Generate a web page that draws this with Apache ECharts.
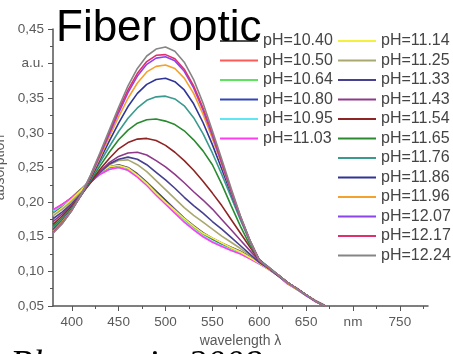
<!DOCTYPE html>
<html>
<head>
<meta charset="utf-8">
<script src="https://cdn.jsdelivr.net/npm/echarts@6/dist/echarts.min.js"></script>
<style>
  html, body { margin: 0; padding: 0; background: #fff; }
  #chart { width: 453px; height: 354px; }
</style>
</head>
<body>
<div id="chart"></div>
<script>
// wavelength in nm
var wavelength = [380, 390, 400, 410, 420, 430, 440, 450, 460, 470, 480, 490, 500, 510, 520,
  530, 540, 550, 560, 570, 580, 590, 600, 610, 620, 630, 640, 650, 660, 670];

var phNames = ["pH=10.40", "pH=10.50", "pH=10.64", "pH=10.80", "pH=10.95", "pH=11.03",
  "pH=11.14", "pH=11.25", "pH=11.33", "pH=11.43", "pH=11.54", "pH=11.65",
  "pH=11.76", "pH=11.86", "pH=11.96", "pH=12.07", "pH=12.17", "pH=12.24"];

var phColors = ["#505050", "#ff5a5a", "#5ee35e", "#3346b8", "#5fe6f0", "#ff3cf0",
  "#f5f03c", "#a8a870", "#45408f", "#8e3a8a", "#8e2424", "#2a8a30",
  "#3a9a8e", "#2f3596", "#f5a22c", "#8a45f0", "#e0306a", "#858585"];

// absorption (a.u.), one array per pH
var ph1040 = [0.186, 0.196, 0.207, 0.219, 0.232, 0.243, 0.251, 0.254, 0.250, 0.241, 0.229, 0.216, 0.203, 0.190, 0.177, 0.166, 0.156, 0.148, 0.141, 0.135, 0.129, 0.121, 0.113, 0.104, 0.095, 0.084, 0.075, 0.066, 0.057, 0.050];
var ph1050 = [0.188, 0.197, 0.206, 0.218, 0.231, 0.242, 0.250, 0.253, 0.249, 0.240, 0.228, 0.214, 0.201, 0.189, 0.176, 0.164, 0.154, 0.147, 0.140, 0.134, 0.128, 0.120, 0.112, 0.103, 0.094, 0.083, 0.076, 0.066, 0.058, 0.051];
var ph1064 = [0.184, 0.195, 0.205, 0.218, 0.230, 0.242, 0.249, 0.252, 0.248, 0.239, 0.227, 0.214, 0.200, 0.188, 0.175, 0.164, 0.154, 0.146, 0.139, 0.133, 0.127, 0.120, 0.112, 0.104, 0.095, 0.083, 0.074, 0.065, 0.057, 0.050];
var ph1080 = [0.183, 0.193, 0.204, 0.217, 0.230, 0.241, 0.249, 0.253, 0.249, 0.240, 0.228, 0.215, 0.202, 0.189, 0.176, 0.165, 0.155, 0.147, 0.140, 0.134, 0.128, 0.121, 0.113, 0.104, 0.094, 0.084, 0.075, 0.066, 0.057, 0.050];
var ph1095 = [0.187, 0.196, 0.205, 0.216, 0.229, 0.240, 0.248, 0.250, 0.246, 0.237, 0.225, 0.211, 0.198, 0.185, 0.172, 0.161, 0.151, 0.143, 0.137, 0.131, 0.126, 0.119, 0.111, 0.103, 0.094, 0.083, 0.074, 0.065, 0.057, 0.050];
var ph1103 = [0.189, 0.197, 0.206, 0.217, 0.229, 0.240, 0.247, 0.250, 0.246, 0.236, 0.224, 0.210, 0.197, 0.184, 0.171, 0.160, 0.150, 0.142, 0.136, 0.130, 0.125, 0.118, 0.111, 0.103, 0.094, 0.082, 0.074, 0.065, 0.056, 0.050];
var ph1114 = [0.182, 0.192, 0.204, 0.217, 0.231, 0.243, 0.251, 0.253, 0.249, 0.239, 0.227, 0.213, 0.200, 0.188, 0.176, 0.165, 0.155, 0.148, 0.141, 0.134, 0.128, 0.120, 0.112, 0.103, 0.095, 0.084, 0.075, 0.066, 0.057, 0.050];
var ph1125 = [0.180, 0.190, 0.201, 0.214, 0.229, 0.243, 0.254, 0.260, 0.261, 0.254, 0.244, 0.231, 0.218, 0.205, 0.192, 0.181, 0.171, 0.161, 0.151, 0.142, 0.133, 0.123, 0.113, 0.104, 0.095, 0.083, 0.075, 0.066, 0.057, 0.050];
var ph1133 = [0.176, 0.186, 0.198, 0.212, 0.228, 0.243, 0.255, 0.262, 0.265, 0.262, 0.254, 0.243, 0.232, 0.220, 0.207, 0.195, 0.184, 0.172, 0.161, 0.149, 0.137, 0.125, 0.113, 0.104, 0.094, 0.083, 0.075, 0.066, 0.057, 0.050];
var ph1143 = [0.172, 0.183, 0.196, 0.211, 0.228, 0.244, 0.257, 0.266, 0.271, 0.272, 0.268, 0.260, 0.251, 0.240, 0.228, 0.215, 0.203, 0.190, 0.175, 0.160, 0.145, 0.130, 0.115, 0.105, 0.095, 0.084, 0.075, 0.066, 0.057, 0.050];
var ph1154 = [0.168, 0.180, 0.194, 0.210, 0.229, 0.247, 0.263, 0.277, 0.286, 0.291, 0.292, 0.289, 0.282, 0.272, 0.260, 0.246, 0.230, 0.213, 0.195, 0.175, 0.155, 0.135, 0.116, 0.105, 0.095, 0.084, 0.075, 0.066, 0.057, 0.050];
var ph1165 = [0.165, 0.177, 0.192, 0.210, 0.231, 0.252, 0.272, 0.290, 0.304, 0.314, 0.319, 0.320, 0.317, 0.312, 0.303, 0.290, 0.274, 0.254, 0.226, 0.195, 0.165, 0.138, 0.117, 0.105, 0.095, 0.084, 0.075, 0.066, 0.057, 0.050];
var ph1176 = [0.162, 0.175, 0.191, 0.210, 0.233, 0.257, 0.280, 0.302, 0.321, 0.336, 0.347, 0.352, 0.353, 0.349, 0.339, 0.322, 0.299, 0.271, 0.240, 0.207, 0.174, 0.143, 0.117, 0.106, 0.095, 0.083, 0.075, 0.066, 0.057, 0.050];
var ph1186 = [0.160, 0.173, 0.190, 0.210, 0.234, 0.261, 0.288, 0.314, 0.338, 0.357, 0.370, 0.377, 0.379, 0.374, 0.362, 0.342, 0.315, 0.283, 0.248, 0.212, 0.177, 0.144, 0.117, 0.105, 0.094, 0.084, 0.075, 0.066, 0.057, 0.050];
var ph1196 = [0.158, 0.172, 0.189, 0.210, 0.236, 0.264, 0.294, 0.323, 0.350, 0.372, 0.388, 0.396, 0.398, 0.393, 0.379, 0.357, 0.327, 0.292, 0.254, 0.215, 0.178, 0.144, 0.116, 0.105, 0.095, 0.083, 0.074, 0.066, 0.057, 0.050];
var ph1207 = [0.156, 0.170, 0.188, 0.210, 0.237, 0.267, 0.298, 0.329, 0.358, 0.382, 0.399, 0.408, 0.410, 0.404, 0.389, 0.365, 0.333, 0.296, 0.256, 0.216, 0.178, 0.144, 0.116, 0.106, 0.095, 0.084, 0.075, 0.065, 0.057, 0.050];
var ph1217 = [0.156, 0.170, 0.188, 0.211, 0.238, 0.269, 0.301, 0.333, 0.362, 0.386, 0.403, 0.412, 0.413, 0.407, 0.392, 0.368, 0.336, 0.299, 0.258, 0.217, 0.179, 0.145, 0.116, 0.105, 0.095, 0.084, 0.075, 0.066, 0.057, 0.050];
var ph1224 = [0.155, 0.169, 0.188, 0.211, 0.239, 0.271, 0.304, 0.337, 0.368, 0.393, 0.411, 0.421, 0.424, 0.418, 0.402, 0.377, 0.343, 0.303, 0.262, 0.220, 0.180, 0.145, 0.116, 0.106, 0.095, 0.084, 0.075, 0.066, 0.057, 0.050];

var phValues = [ph1040, ph1050, ph1064, ph1080, ph1095, ph1103, ph1114, ph1125, ph1133,
  ph1143, ph1154, ph1165, ph1176, ph1186, ph1196, ph1207, ph1217, ph1224];

var xMajorTicks = [400, 450, 500, 550, 600, 650, 700, 750];
var xMinorTicks = [425, 475, 525, 575, 625, 675, 725, 775];

var chart = echarts.init(document.getElementById("chart"));

var series = phNames.map(function (name, i) {
  return {
    name: name,
    type: "line",
    symbol: "none",
    color: phColors[i],
    lineStyle: { width: 1.6, color: phColors[i] },
    data: wavelength.map(function (w, j) { return [w, phValues[i][j]]; }),
    z: 2
  };
});

var legendText = { color: "#444", fontSize: 16, fontFamily: "Liberation Sans, Arial", lineHeight: 16 };

var option = {
  animation: false,
  backgroundColor: "#fff",
  grid: { left: 53, right: 25, top: 29, bottom: 48, containLabel: false, outerBoundsMode: "none" },
  legend: [
    {
      orient: "vertical", left: 220, top: 33, padding: 0,
      icon: "rect", itemWidth: 38, itemHeight: 2, itemGap: 3.5,
      textStyle: legendText,
      data: phNames.slice(0, 6)
    },
    {
      orient: "vertical", left: 338, top: 33, padding: 0,
      icon: "rect", itemWidth: 38, itemHeight: 2, itemGap: 3.5,
      textStyle: legendText,
      data: phNames.slice(6)
    }
  ],
  xAxis: [
    {
      type: "value", min: 380, max: 780,
      name: "wavelength λ", nameLocation: "middle", nameGap: 28,
      nameTextStyle: { color: "#5a5a5a", fontSize: 14, fontFamily: "Liberation Sans, Arial" },
      axisLine: { lineStyle: { color: "#555", width: 1.5 } },
      axisTick: { customValues: xMajorTicks, length: 5, lineStyle: { color: "#555" } },
      axisLabel: {
        customValues: xMajorTicks, margin: 9, color: "#5a5a5a", fontSize: 13.5,
        fontFamily: "Liberation Sans, Arial",
        formatter: function (v) { return v === 700 ? "nm" : String(v); }
      },
      splitLine: { show: false }
    },
    {
      type: "value", min: 380, max: 780, position: "bottom",
      axisLine: { show: false },
      axisTick: { customValues: xMinorTicks, length: 3, lineStyle: { color: "#555" } },
      axisLabel: { show: false },
      splitLine: { show: false }
    }
  ],
  yAxis: {
    type: "value", min: 0.05, max: 0.45, interval: 0.05,
    name: "absorption", nameLocation: "middle", nameRotate: 90, nameGap: 46,
    nameTextStyle: { color: "#5a5a5a", fontSize: 14, fontFamily: "Liberation Sans, Arial" },
    axisLine: { show: true, lineStyle: { color: "#555", width: 1.5 } },
    axisTick: { show: true, length: 5, lineStyle: { color: "#555" } },
    minorTick: { show: true, splitNumber: 2, length: 3, lineStyle: { color: "#555" } },
    axisLabel: {
      margin: 9, color: "#5a5a5a", fontSize: 13.5, fontFamily: "Liberation Sans, Arial",
      formatter: function (v) {
        if (Math.abs(v - 0.4) < 1e-6) return "a.u.";
        return v.toFixed(2).replace(".", ",");
      }
    },
    splitLine: { show: false }
  },
  graphic: [
    {
      type: "text", left: 56, top: 7, z: 100,
      style: { text: "Fiber optic", fill: "#000", font: "44px Liberation Sans, Arial" }
    },
    {
      type: "text", left: 10, top: 348, z: 100,
      style: { text: "Blumentritt 2008", fill: "#000", font: "italic 37px Liberation Serif, Times New Roman" }
    }
  ],
  series: series
};

chart.setOption(option);
</script>
</body>
</html>
